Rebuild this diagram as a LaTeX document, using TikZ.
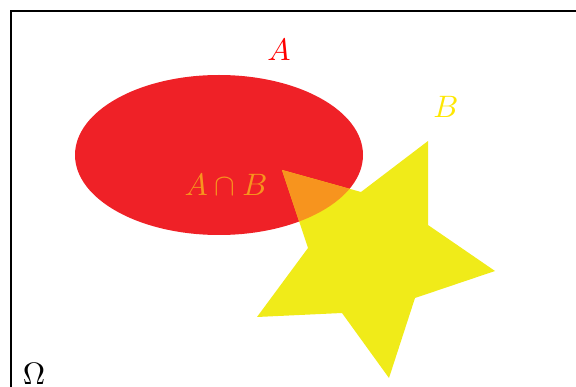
\documentclass[tikz,border=0pt]{standalone}
\begin{document}
\begin{tikzpicture}[x=1pt,y=-1pt,
  lbl/.style={inner sep=0pt,scale=3.1}]
\definecolor{setred}{RGB}{239,33,39}
\definecolor{setyellow}{RGB}{240,235,25}
\definecolor{setorange}{RGB}{247,148,30}
\useasboundingbox (0,0) rectangle (576,387);
\draw[line width=1.1pt] (11,420) -- (11,11) -- (620,11);
\fill[setred] (219,155) ellipse [x radius=144, y radius=80];
\def\starpath{(282,170) -- (361,192) -- (428,141) -- (428,225) -- (495,271) -- (415,298) -- (389,378) -- (342,313) -- (257,317) -- (308,248) -- cycle}
\fill[setyellow] \starpath;
\begin{scope}
  \clip (219,155) ellipse [x radius=144, y radius=80];
  \fill[setorange] \starpath;
\end{scope}
\node[lbl,text=red] (la) at (279,50) {$A$};
\node[lbl,text=yellow!95!red] (lb) at (446,107) {$B$};
\node[lbl,text=setorange] (lab) at (226,185) {$A\cap B$};
\node[lbl] (om) at (34,374) {$\Omega$};
\end{tikzpicture}
\end{document}
